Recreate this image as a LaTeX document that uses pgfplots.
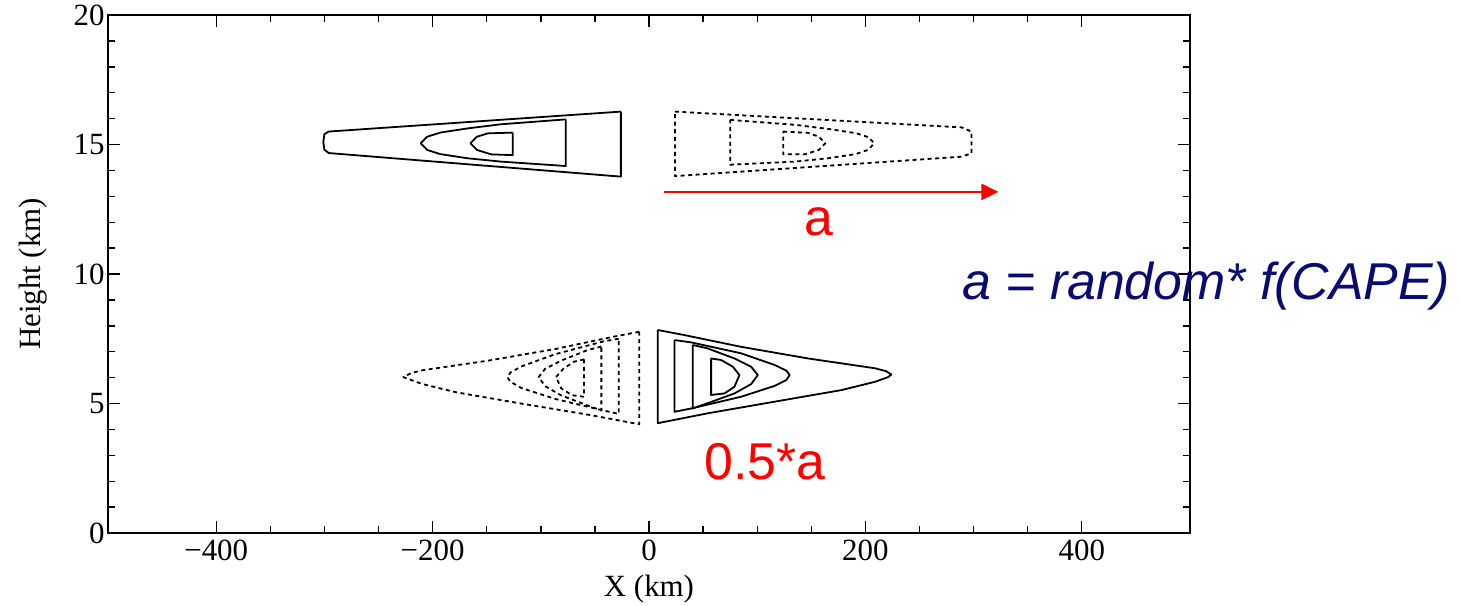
\documentclass[border=0pt]{standalone}
\usepackage{fontspec}
\setmainfont{Liberation Serif}
\newfontfamily\arialfont{Liberation Sans}
\usepackage{pgfplots}
\pgfplotsset{compat=1.18}
\usetikzlibrary{calc,arrows.meta}
\definecolor{navytext}{RGB}{10,10,115}
\begin{document}
\begin{tikzpicture}
\begin{axis}[name=ax, scale only axis, width=1082bp, height=518bp,
 xmin=-500, xmax=500, ymin=0, ymax=20,
 xtick={-400,-200,0,200,400}, xticklabels={−400,−200,0,200,400},
 minor x tick num=3,
 ytick={0,5,10,15,20}, minor y tick num=4,
 tick align=inside, major tick length=12bp, minor tick length=7bp,
 axis line style={line width=1.8bp},
 every tick/.style={line width=1.4bp, black},
 every tick label/.append style={font=\fontsize{31}{31}\selectfont},
 xticklabel style={yshift=-3bp},
 /pgf/number format/assume math mode=true,
 label style={font=\fontsize{31}{31}\selectfont},
 xlabel={X (km)}, ylabel={Height (km)},
 xlabel style={yshift=-8bp},
 ylabel style={yshift=20bp},
 clip=false,
 solidc/.style={black, line width=1.8bp, line join=round},
 dotc/.style={black, line width=1.8bp, line join=round, dash pattern=on 4bp off 3.5bp},
]
% top-left solid group
\addplot[solidc] coordinates {(-26,16.27) (-296,15.5) (-300,15.4) (-301,15.1) (-300,14.8) (-296,14.67) (-26,13.76) (-26,16.27)};
\addplot[solidc] coordinates {(-77,15.97) (-137,15.78) (-168,15.62) (-193,15.46) (-205,15.30) (-211,15.05) (-205,14.79) (-193,14.63) (-168,14.47) (-137,14.34) (-77,14.17) (-77,15.97)};
\addplot[solidc] coordinates {(-126,15.46) (-149,15.43) (-159,15.30) (-165,15.05) (-159,14.79) (-146,14.62) (-126,14.59) (-126,15.46)};
% top-right dotted group
\addplot[dotc] coordinates {(24,16.27) (289,15.66) (298,15.5) (298,14.66) (289,14.53) (24,13.78) (24,16.27)};
\addplot[dotc] coordinates {(75,15.95) (135,15.76) (166,15.6) (191,15.44) (203,15.28) (208,15.05) (203,14.8) (191,14.63) (166,14.47) (135,14.34) (75,14.22) (75,15.95)};
\addplot[dotc] coordinates {(124,15.5) (147,15.45) (157,15.3) (163,15.05) (157,14.79) (144,14.62) (124,14.62) (124,15.5)};
% bottom-right solid group
\addplot[solidc] coordinates {(8,7.84) (33,7.64) (85,7.19) (147,6.74) (209,6.36) (219,6.25) (224,6.12) (221,6.02) (209,5.84) (178,5.52) (116,5.07) (54,4.62) (8,4.24) (8,7.84)};
\addplot[solidc] coordinates {(23.5,7.45) (39,7.36) (85,6.94) (116,6.49) (127,6.27) (130,6.1) (127,5.91) (116,5.68) (85,5.26) (39,4.81) (23.5,4.68) (23.5,7.45)};
\addplot[solidc] coordinates {(40.4,7.26) (54,7.13) (79,6.74) (94.4,6.42) (100.6,6.1) (94.4,5.75) (79,5.39) (54,5.01) (40.4,4.81) (40.4,7.26)};
\addplot[solidc] coordinates {(57.4,6.74) (66.7,6.68) (77.5,6.42) (83.6,6.1) (79,5.65) (69.7,5.39) (57.4,5.33) (57.4,6.74)};
% bottom-left dotted group
\addplot[dotc] coordinates {(-9,7.77) (-34,7.57) (-86,7.11) (-148,6.66) (-210,6.28) (-220,6.17) (-227,6.02) (-222,5.94) (-210,5.76) (-179,5.44) (-117,4.99) (-55,4.56) (-9,4.2) (-9,7.77)};
\addplot[dotc] coordinates {(-28,7.5) (-42,7.4) (-87,6.9) (-118,6.43) (-128,6.2) (-131,6.02) (-128,5.84) (-118,5.6) (-87,5.18) (-42,4.73) (-28,4.6) (-28,7.5)};
\addplot[dotc] coordinates {(-44,7.2) (-57,7.06) (-81,6.66) (-96,6.34) (-102,6.02) (-96,5.67) (-81,5.31) (-57,4.93) (-44,4.73) (-44,7.2)};
\addplot[dotc] coordinates {(-60,6.7) (-69,6.62) (-79,6.35) (-86,6.02) (-81,5.58) (-71,5.32) (-60,5.26) (-60,6.7)};
% arrow
\addplot[red, line width=2bp, -{Triangle[length=17bp,width=16bp]}] coordinates {(14,13.17) (323,13.17)};
\node[font=\arialfont\fontsize{52}{52}\selectfont, text=red, anchor=base, inner sep=0pt] at (axis cs:157,11.47) {a};
\node[font=\arialfont\fontsize{52}{52}\selectfont, text=red, anchor=base, inner sep=0pt] at (axis cs:107,2.08) {0.5*a};
\node[font=\arialfont\itshape\fontsize{52}{52}\selectfont, text=navytext, anchor=base, inner sep=0pt] at (axis cs:515,9.03) {a = random* f(CAPE)};
\end{axis}
\pgfresetboundingbox
\path[use as bounding box] ($(ax.south west)+(-108bp,-72bp)$) rectangle ($(ax.north east)+(271bp,15bp)$);
\end{tikzpicture}
\end{document}
